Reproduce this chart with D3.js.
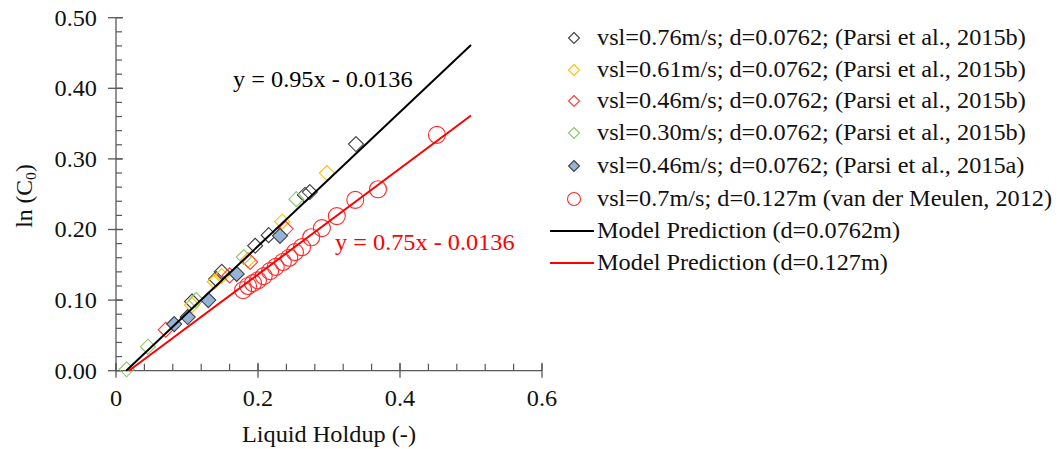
<!DOCTYPE html>
<html>
<head>
<meta charset="utf-8">
<script src="https://cdnjs.cloudflare.com/ajax/libs/d3/7.8.5/d3.min.js"></script>
<style>
  html, body { margin: 0; padding: 0; background: #fff; }
  svg { display: block; font-family: "Liberation Serif", "Times New Roman", serif; }
</style>
</head>
<body>
<svg id="chart" width="1059" height="449"></svg>
<script>
// Measured distribution parameter data, ln(C0) vs liquid holdup
const parsi076 = [[0.338,0.321],[0.273,0.253],[0.266,0.249],[0.215,0.192],[0.196,0.177],
                  [0.149,0.140],[0.141,0.130],[0.107,0.098]];
const parsi061 = [[0.297,0.280],[0.234,0.211],[0.186,0.157],[0.149,0.134],[0.139,0.126],[0.107,0.093]];
const parsi046 = [[0.239,0.201],[0.189,0.154],[0.160,0.135],[0.070,0.058]];
const parsi030 = [[0.254,0.243],[0.180,0.161],[0.113,0.100],[0.045,0.034],[0.015,0.002]];
const parsi046a = [[0.231,0.191],[0.170,0.137],[0.130,0.100],[0.101,0.076],[0.082,0.066]];
const meulen = [[0.179,0.114],[0.186,0.120],[0.193,0.124],[0.200,0.128],[0.208,0.134],[0.217,0.141],
                [0.225,0.147],[0.235,0.154],[0.244,0.160],[0.252,0.168],[0.262,0.175],[0.275,0.189],
                [0.290,0.202],[0.311,0.219],[0.337,0.242],[0.369,0.257],[0.452,0.334]];

// Model fits: ln(C0) = slope * holdup + intercept
const modelSmall = { slope: 0.95, intercept: -0.0136, xMax: 0.5 };
const modelLarge = { slope: 0.75, intercept: -0.0136, xMax: 0.5 };

const xTicks = [0, 0.2, 0.4, 0.6];
const yTicks = [0, 0.1, 0.2, 0.3, 0.4, 0.5];

const legendLabels = [
  "vsl=0.76m/s; d=0.0762; (Parsi et al., 2015b)",
  "vsl=0.61m/s; d=0.0762; (Parsi et al., 2015b)",
  "vsl=0.46m/s; d=0.0762; (Parsi et al., 2015b)",
  "vsl=0.30m/s; d=0.0762; (Parsi et al., 2015b)",
  "vsl=0.46m/s; d=0.0762; (Parsi et al., 2015a)",
  "vsl=0.7m/s; d=0.127m (van der Meulen, 2012)",
  "Model Prediction (d=0.0762m)",
  "Model Prediction (d=0.127m)"
];

const svg = d3.select("#chart");
const axisColor = "#595959";
const fontSize = 22.5;
const stretch = 1.08; // slightly wide serif lettering

// Text placed at (tx, ty) and widened horizontally
function addText(g, tx, ty, str, opts = {}) {
  const t = g.append("text")
    .attr("transform", `translate(${tx},${ty}) scale(${stretch},1)`)
    .attr("font-size", opts.size || fontSize)
    .attr("fill", opts.fill || "#111")
    .attr("text-anchor", opts.anchor || "start");
  if (opts.dy) t.attr("dy", opts.dy);
  t.text(str);
  return t;
}

const x = d3.scaleLinear().domain([0, 0.6]).range([116, 542]);
const y = d3.scaleLinear().domain([0, 0.5]).range([370.7, 17.7]);

// Axes: major ticks cross the axis, minor ticks point inward
const gx = svg.append("g");
gx.append("line").attr("x1", x(0)).attr("x2", x(0.6)).attr("y1", y(0)).attr("y2", y(0))
  .attr("stroke", axisColor).attr("stroke-width", 1.3);
d3.range(0, 0.6001, 0.04).forEach(v => {
  gx.append("line").attr("x1", x(v)).attr("x2", x(v)).attr("y1", y(0)).attr("y2", y(0) - 7)
    .attr("stroke", axisColor).attr("stroke-width", 1.2);
});
xTicks.forEach(v => {
  gx.append("line").attr("x1", x(v)).attr("x2", x(v)).attr("y1", y(0) - 8).attr("y2", y(0) + 7)
    .attr("stroke", axisColor).attr("stroke-width", 1.3);
  addText(gx, x(v), 406, v === 0 ? "0" : d3.format(".1f")(v), { anchor: "middle" });
});

const gy = svg.append("g");
gy.append("line").attr("x1", x(0)).attr("x2", x(0)).attr("y1", y(0)).attr("y2", y(0.5))
  .attr("stroke", axisColor).attr("stroke-width", 1.3);
d3.range(0, 0.5001, 0.02).forEach(v => {
  gy.append("line").attr("x1", x(0)).attr("x2", x(0) + 6).attr("y1", y(v)).attr("y2", y(v))
    .attr("stroke", axisColor).attr("stroke-width", 1.2);
});
yTicks.forEach(v => {
  gy.append("line").attr("x1", x(0) - 8).attr("x2", x(0) + 7).attr("y1", y(v)).attr("y2", y(v))
    .attr("stroke", axisColor).attr("stroke-width", 1.3);
  addText(gy, 97, y(v), d3.format(".2f")(v), { anchor: "end", dy: "0.35em" });
});

// Axis titles
addText(svg, 329, 442, "Liquid Holdup (-)", { anchor: "middle" });
const yt = svg.append("text").attr("transform", "translate(32,196) rotate(-90) scale(1.05,1)")
  .attr("text-anchor", "middle").attr("font-size", fontSize).attr("fill", "#111");
yt.append("tspan").text("ln (C");
yt.append("tspan").attr("font-size", 15).attr("dy", 4).text("0");
yt.append("tspan").attr("dy", -4).text(")");

// Marker styles
const series = [
  { data: parsi076, shape: "diamond", stroke: "#404040", fill: "none" },
  { data: parsi061, shape: "diamond", stroke: "#ffc000", fill: "none" },
  { data: parsi046, shape: "diamond", stroke: "#ff3b3b", fill: "none" },
  { data: parsi030, shape: "diamond", stroke: "#8cc66a", fill: "none" },
  { data: parsi046a, shape: "diamond", stroke: "#404040", fill: "#95b3d7" },
  { data: meulen, shape: "circle", stroke: "#ff2a2a", fill: "none" }
];

function drawMarker(g, s, cx, cy, size) {
  if (s.shape === "diamond") {
    const h = size;
    g.append("path")
      .attr("d", `M${cx},${cy - h}L${cx + h},${cy}L${cx},${cy + h}L${cx - h},${cy}Z`)
      .attr("fill", s.fill).attr("stroke", s.stroke).attr("stroke-width", 1.1);
  } else {
    g.append("circle").attr("cx", cx).attr("cy", cy).attr("r", size + 1)
      .attr("fill", s.fill).attr("stroke", s.stroke).attr("stroke-width", 1.1);
  }
}

const gm = svg.append("g");
series.forEach(s => {
  s.data.forEach(d => drawMarker(gm, s, x(d[0]), y(d[1]), 7.5));
});

// Model lines, from the zero crossing to holdup 0.5
const lineGen = d3.line().x(d => x(d[0])).y(d => y(d[1]));
[[modelSmall, "#000"], [modelLarge, "#ff0000"]].forEach(([m, c]) => {
  const x0 = -m.intercept / m.slope;
  svg.append("path")
    .attr("d", lineGen([[x0, 0], [m.xMax, m.slope * m.xMax + m.intercept]]))
    .attr("stroke", c).attr("stroke-width", 2).attr("fill", "none");
});

// Fit equations
addText(svg, 233, 87, "y = 0.95x - 0.0136", { fill: "#000" });
addText(svg, 335, 250, "y = 0.75x - 0.0136", { fill: "#ff0000" });

// Legend
const lg = svg.append("g");
const rowY = [38, 70, 101, 133, 166, 199, 231, 263];
legendLabels.forEach((label, i) => {
  const ry = rowY[i];
  if (i < series.length) {
    drawMarker(lg, series[i], 574, ry, 5.5);
  } else {
    lg.append("line").attr("x1", 550).attr("x2", 594).attr("y1", ry).attr("y2", ry)
      .attr("stroke", i === 6 ? "#000" : "#ff0000").attr("stroke-width", 2);
  }
  addText(lg, 597, ry, label, { dy: "0.33em" });
});
</script>
</body>
</html>
